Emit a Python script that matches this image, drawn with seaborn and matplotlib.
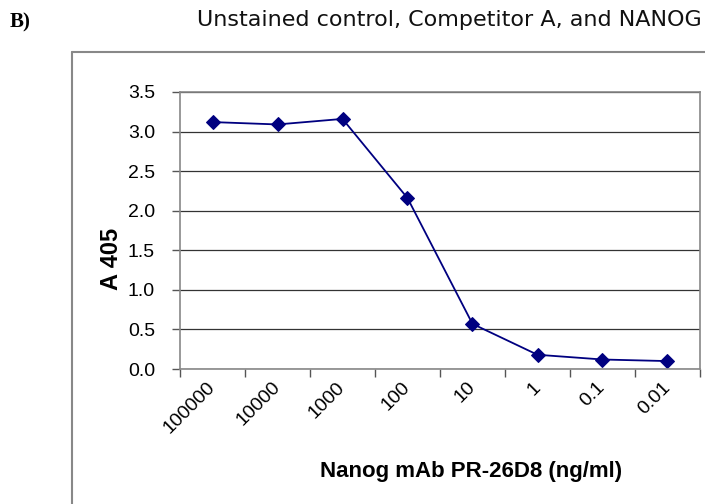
import numpy as np
import matplotlib
matplotlib.use("Agg")
import matplotlib.pyplot as plt
import matplotlib.transforms as mtransforms
import seaborn as sns
from matplotlib.lines import Line2D

# Nanog mAb dilution series
concentrations = ["100000", "10000", "1000", "100", "10", "1", "0.1", "0.01"]
a405 = [3.12, 3.09, 3.16, 2.16, 0.57, 0.18, 0.12, 0.10]
y_ticks = [0.0, 0.5, 1.0, 1.5, 2.0, 2.5, 3.0, 3.5]

sns.set_theme(style="white")
plt.rcParams['font.family'] = ['Liberation Sans', 'DejaVu Sans']
plt.rcParams.update({"text.color": "black", "axes.labelcolor": "black",
                     "xtick.labelcolor": "black", "ytick.labelcolor": "black"})

fig = plt.figure(figsize=(7.05, 5.04), dpi=100)
ax = fig.add_axes([180/705, 1 - 369/504, 520/705, 277/504])

pos = np.arange(len(concentrations))
sns.lineplot(x=pos, y=a405, ax=ax, color="#000080", marker="D",
             markersize=7, markeredgecolor="#000080", linewidth=1.3)

ax.set_ylim(0, 3.5)
ax.set_xlim(-0.5, len(concentrations) - 0.5)
ax.set_yticks(y_ticks)
ax.set_yticklabels([f"{v:.1f}" for v in y_ticks], fontsize=14)
ax.yaxis.grid(True, color="#333333", linewidth=0.9)
ax.set_axisbelow(True)

# tick marks sit between categories, labels sit on them
ax.set_xticks(np.arange(-0.5, len(concentrations)), labels=[""] * (len(concentrations) + 1))
ax.set_xticks(pos, minor=True)
ax.set_xticklabels(concentrations, minor=True, rotation=45, ha="right",
                   rotation_mode="anchor", fontsize=14)
ax.tick_params(axis="x", which="major", length=6, width=1, color="#555555", direction="out", bottom=True)
ax.tick_params(axis="x", which="minor", length=0, pad=7)
ax.tick_params(axis="y", length=6, width=1, color="#555555", direction="out", left=True, pad=12)
shift = mtransforms.ScaledTranslation(-6 / 100, 0, fig.dpi_scale_trans)
for lbl in ax.get_xticklabels(minor=True):
    lbl.set_transform(lbl.get_transform() + shift)

for s in ax.spines.values():
    s.set_color("#888888")
    s.set_linewidth(1.2)

ax.set_xlabel("Nanog mAb PR-26D8 (ng/ml)", fontsize=16, fontweight="bold")
ax.xaxis.set_label_coords((471 - 180) / 520, (369 - 461) / 277)
ax.set_ylabel("A 405", fontsize=17, fontweight="bold")
ax.yaxis.set_label_coords((123 - 180) / 520, (369 - 259) / 277)

# outer chart frame
fig.add_artist(Line2D([72/705, 72/705], [0, 1 - 52/504], color="#888888", linewidth=1.5, transform=fig.transFigure))
fig.add_artist(Line2D([72/705, 1], [1 - 52/504, 1 - 52/504], color="#888888", linewidth=1.5, transform=fig.transFigure))

fig.text(449/705, 1 - 20/504, "Unstained control, Competitor A, and NANOG",
         ha="center", va="center", fontsize=16, family="DejaVu Sans", color="#111111")
fig.text(10/705, 1 - 22/504, "B)", ha="left", va="center", fontsize=15,
         fontweight="bold", family="Liberation Serif")

fig.savefig("out.png", dpi=100)
